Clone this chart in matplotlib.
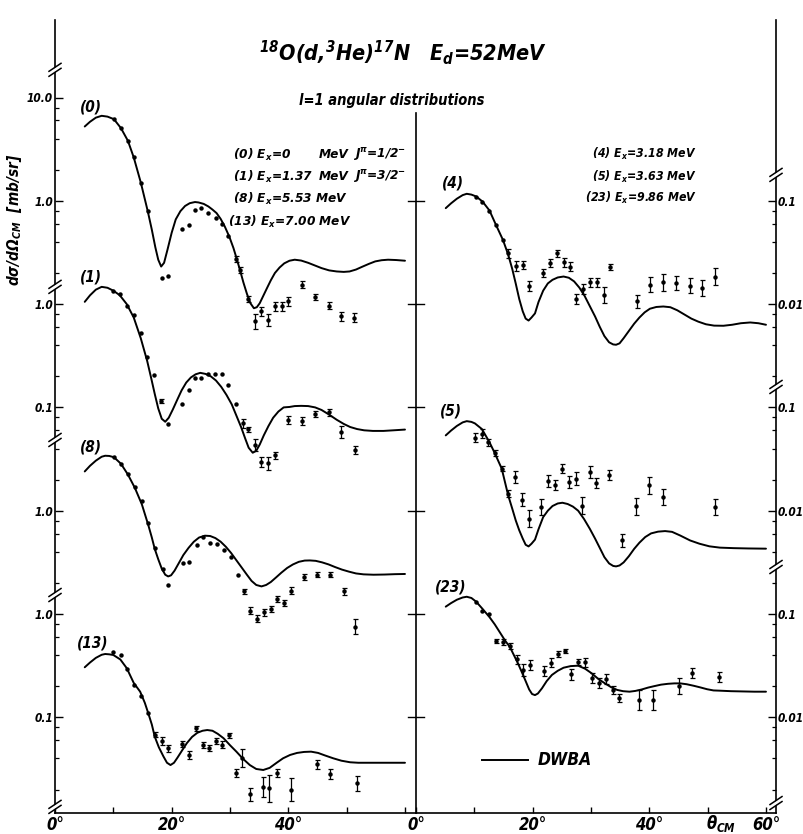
import numpy as np
import matplotlib
matplotlib.use("Agg")
from matplotlib import pyplot as plt
from matplotlib.lines import Line2D
from matplotlib.patches import Polygon

# lettering: bold italic, condensed face
plt.rcParams['font.family'] = ['DejaVu Sans']
plt.rcParams['font.stretch'] = 'condensed'
plt.rcParams['font.weight'] = 'bold'
plt.rcParams['font.style'] = 'italic'
plt.rcParams['mathtext.fontset'] = 'custom'
for k in ('rm', 'it', 'bf', 'sf'):
    plt.rcParams['mathtext.' + k] = 'DejaVu Sans:bold:italic'
plt.rcParams['mathtext.default'] = 'it'

# ---------------- data : angle (deg CM), cross section (mb/sr) ----------------
# (0) Ex=0 MeV, DWBA curve and measured points
th0_ang = [5.1, 6.0, 7.0, 8.0, 9.0, 10.1, 11.3, 12.5, 13.5, 14.7, 15.9, 16.6, 17.2, 17.7,
           18.2, 18.7, 19.3, 20.0, 20.7, 21.5, 22.3, 23.1, 24.0, 24.6, 25.5, 26.3, 27.0,
           27.7, 28.4, 29.1, 29.9, 30.6, 31.2, 31.7, 32.3, 32.9, 33.5, 34.1, 34.6, 35.1,
           35.7, 36.4, 37.0, 37.7, 38.5, 39.3, 40.2, 41.1, 42.2, 43.4, 44.6, 45.7, 47.0,
           48.3, 49.5, 50.5, 51.6, 52.6, 53.8, 54.9, 56.0, 57.1, 58.5, 60.0]
th0_sig = [5.24, 5.82, 6.38, 6.65, 6.53, 6.17, 5.06, 3.81, 2.63, 1.51, 0.794, 0.525, 0.355,
           0.269, 0.231, 0.251, 0.339, 0.490, 0.661, 0.794, 0.891, 0.948, 0.973, 0.964, 0.933,
           0.881, 0.822, 0.760, 0.668, 0.565, 0.447, 0.348, 0.269, 0.215, 0.162, 0.126, 0.102,
           0.0912, 0.0933, 0.102, 0.120, 0.145, 0.170, 0.200, 0.226, 0.248, 0.263, 0.269,
           0.264, 0.251, 0.236, 0.223, 0.212, 0.207, 0.205, 0.207, 0.216, 0.229, 0.245, 0.259,
           0.266, 0.269, 0.267, 0.263]
d0_ang = [10.1, 11.3, 12.5, 13.5, 14.7, 15.9, 18.3, 19.4, 21.7, 23.0, 24.0, 25.1, 26.3, 27.6,
          28.6, 29.7, 31.0, 31.8, 33.1, 34.3, 35.4, 36.6, 37.7, 38.9, 40.0, 42.3, 44.6, 46.9,
          49.0, 51.3]
d0_sig = [6.18, 5.06, 3.81, 2.63, 1.50, 0.80, 0.179, 0.188, 0.536, 0.586, 0.818, 0.85, 0.77,
          0.68, 0.60, 0.46, 0.272, 0.215, 0.112, 0.068, 0.085, 0.070, 0.095, 0.095, 0.106,
          0.154, 0.117, 0.096, 0.076, 0.074]
d0_err = [0, 0, 0, 0, 0, 0, 0, 0, 0, 0, 0, 0, 0, 0, 0, 0, 0.07, 0.07, 0.08, 0.18, 0.10, 0.14,
          0.10, 0.10, 0.10, 0.08, 0.06, 0.08, 0.10, 0.10]

# (1) Ex=1.37 MeV
th1_ang = [5.1, 6.0, 7.0, 8.0, 9.0, 10.0, 11.1, 12.3, 13.5, 14.7, 15.8, 16.5, 17.1, 17.7,
           18.3, 18.9, 19.5, 20.2, 21.0, 21.7, 22.5, 23.3, 24.1, 24.9, 25.8, 26.7, 27.6,
           28.5, 29.4, 30.3, 31.1, 31.9, 32.6, 33.2, 33.9, 34.5, 35.1, 35.8, 36.6, 37.4,
           38.3, 39.2, 40.2, 41.1, 42.2, 43.4, 44.6, 45.7, 47.0, 48.3, 49.5, 50.6, 51.8,
           53.0, 54.5, 56.3, 58.0, 60.0]
th1_sig = [1.052, 1.216, 1.380, 1.469, 1.439, 1.349, 1.219, 1.0, 0.741, 0.468, 0.282, 0.191,
           0.135, 0.0977, 0.0776, 0.0726, 0.0794, 0.0955, 0.120, 0.146, 0.174, 0.195, 0.209,
           0.216, 0.211, 0.200, 0.182, 0.158, 0.132, 0.107, 0.0832, 0.0646, 0.0501, 0.0407,
           0.0364, 0.0380, 0.0437, 0.0537, 0.0661, 0.0794, 0.0912, 0.100, 0.101, 0.103,
           0.1035, 0.103, 0.100, 0.0944, 0.0851, 0.0759, 0.0692, 0.0646, 0.0617, 0.0600,
           0.0592, 0.0592, 0.0600, 0.0610]
d1_ang = [10.0, 11.1, 12.3, 13.5, 14.7, 15.8, 17.0, 18.2, 19.3, 21.7, 22.9, 24.0, 25.1, 26.3,
          27.4, 28.6, 29.7, 31.0, 32.2, 33.1, 34.3, 35.4, 36.6, 37.7, 40.0, 42.3, 44.6, 46.9,
          49.0, 51.4]
d1_sig = [1.34, 1.24, 0.96, 0.78, 0.53, 0.309, 0.205, 0.115, 0.069, 0.109, 0.147, 0.194, 0.194,
          0.209, 0.209, 0.209, 0.164, 0.109, 0.070, 0.0612, 0.0432, 0.0297, 0.0287, 0.0345,
          0.0753, 0.0742, 0.0855, 0.0893, 0.058, 0.0386]
d1_err = [0, 0, 0, 0, 0, 0, 0, 0.05, 0, 0, 0, 0, 0, 0, 0, 0, 0, 0, 0.10, 0.06, 0.15, 0.12,
          0.16, 0.08, 0.10, 0.10, 0.07, 0.07, 0.15, 0.10]

# (8) Ex=5.53 MeV
th8_ang = [5.1, 6.0, 7.0, 8.0, 8.6, 9.3, 10.1, 11.3, 12.5, 13.7, 14.9, 16.0, 16.6, 17.1,
           17.7, 18.3, 18.9, 19.4, 19.9, 20.5, 21.2, 22.0, 22.9, 23.8, 24.7, 25.7, 26.6,
           27.5, 28.4, 29.3, 30.2, 31.1, 32.0, 32.9, 33.7, 34.5, 35.4, 36.2, 37.0, 37.9,
           38.8, 39.8, 40.8, 41.8, 42.8, 43.7, 44.7, 45.8, 46.9, 48.0, 49.2, 50.4, 51.6,
           52.9, 54.6, 56.5, 58.3, 60.0]
th8_sig = [2.399, 2.72, 3.05, 3.33, 3.404, 3.388, 3.296, 2.851, 2.239, 1.660, 1.148, 0.724,
           0.550, 0.427, 0.339, 0.275, 0.240, 0.231, 0.237, 0.263, 0.309, 0.372, 0.437, 0.501,
           0.550, 0.573, 0.569, 0.543, 0.501, 0.447, 0.389, 0.331, 0.282, 0.240, 0.209, 0.191,
           0.185, 0.191, 0.204, 0.226, 0.251, 0.279, 0.302, 0.320, 0.329, 0.330, 0.327, 0.316,
           0.302, 0.285, 0.269, 0.257, 0.247, 0.242, 0.240, 0.241, 0.243, 0.244]
d8_ang = [10.1, 11.3, 12.5, 13.7, 14.9, 16.0, 17.1, 18.5, 19.4, 21.9, 23.0, 24.3, 25.4, 26.6,
          27.8, 29.0, 30.1, 31.3, 32.4, 33.5, 34.6, 35.8, 37.0, 38.1, 39.3, 40.4, 42.7, 45.0,
          47.1, 49.5, 51.4]
d8_sig = [3.31, 2.85, 2.28, 1.68, 1.23, 0.76, 0.435, 0.275, 0.192, 0.312, 0.319, 0.469, 0.552,
          0.487, 0.476, 0.419, 0.356, 0.240, 0.166, 0.108, 0.090, 0.104, 0.112, 0.140, 0.128,
          0.168, 0.228, 0.240, 0.240, 0.166, 0.075]
d8_err = [0, 0, 0, 0, 0, 0, 0, 0, 0, 0, 0, 0, 0, 0, 0, 0, 0, 0, 0.06, 0.08, 0.08, 0.08, 0.07,
          0.07, 0.06, 0.08, 0.07, 0.06, 0.06, 0.08, 0.18]

# (13) Ex=7.00 MeV
th13_ang = [5.1, 6.0, 7.0, 8.0, 8.6, 9.3, 10.0, 11.2, 12.3, 13.5, 14.6, 15.4, 16.0, 16.6,
            17.1, 17.8, 18.6, 19.2, 19.8, 20.4, 21.0, 21.8, 22.6, 23.5, 24.4, 25.3, 26.1,
            27.0, 27.9, 28.9, 30.0, 31.1, 32.2, 33.4, 34.5, 35.7, 36.8, 38.0, 39.1, 40.3,
            41.5, 42.7, 43.9, 45.1, 46.3, 47.7, 49.1, 50.6, 52.0, 53.4, 56.0, 60.0]
th13_sig = [0.305, 0.339, 0.376, 0.403, 0.410, 0.407, 0.401, 0.363, 0.299, 0.215, 0.177,
            0.138, 0.109, 0.0851, 0.0650, 0.0513, 0.0417, 0.0363, 0.0345, 0.0363, 0.0407,
            0.0479, 0.0562, 0.0646, 0.0708, 0.0741, 0.0753, 0.0741, 0.0692, 0.0627, 0.0537,
            0.0465, 0.0398, 0.0345, 0.0316, 0.0309, 0.0324, 0.0363, 0.0401, 0.0432, 0.0452,
            0.0462, 0.0465, 0.0452, 0.0427, 0.0401, 0.0380, 0.0367, 0.0363, 0.0363, 0.0363,
            0.0363]
d13_ang = [10.0, 11.3, 12.3, 13.5, 14.7, 16.0, 17.1, 18.3, 19.4, 21.7, 22.9, 24.1, 25.3, 26.4,
           27.6, 28.7, 29.9, 31.1, 32.1, 33.4, 35.7, 36.7, 38.0, 40.4, 44.9, 47.1, 51.7]
d13_sig = [0.426, 0.40, 0.292, 0.206, 0.161, 0.109, 0.068, 0.059, 0.050, 0.0552, 0.0432, 0.078,
           0.054, 0.050, 0.059, 0.054, 0.067, 0.029, 0.040, 0.018, 0.0213, 0.0205, 0.029, 0.020,
           0.035, 0.028, 0.023]
d13_err = [0, 0, 0, 0, 0, 0, 0.06, 0.10, 0.08, 0.08, 0.10, 0.05, 0.07, 0.07, 0.07, 0.08, 0.06,
           0.10, 0.22, 0.15, 0.25, 0.35, 0.10, 0.30, 0.10, 0.12, 0.18]

# (4) Ex=3.18 MeV
th4_ang = [5.1, 6.0, 7.0, 8.0, 8.7, 9.5, 10.3, 11.4, 12.6, 13.7, 14.9, 15.8, 16.5, 17.1,
           17.7, 18.3, 18.8, 19.3, 19.8, 20.4, 21.0, 21.8, 22.6, 23.4, 24.3, 25.3, 26.2,
           27.1, 28.0, 28.9, 29.8, 30.7, 31.5, 32.3, 33.1, 33.8, 34.3, 34.9, 35.6, 36.5,
           37.4, 38.3, 39.2, 40.1, 41.2, 42.4, 43.6, 44.8, 46.0, 47.2, 48.4, 49.7, 51.1,
           52.7, 54.2, 55.7, 57.3, 58.7, 60.0]
th4_sig = [0.0849, 0.0944, 0.1047, 0.1135, 0.1169, 0.1148, 0.1102, 0.0984, 0.0805, 0.0586,
           0.0419, 0.0302, 0.0219, 0.0158, 0.0112, 0.00851, 0.00724, 0.00693, 0.00741,
           0.00813, 0.01047, 0.01349, 0.01585, 0.01718, 0.01811, 0.01849, 0.01799, 0.01660,
           0.01445, 0.01202, 0.00955, 0.00759, 0.00603, 0.00490, 0.00427, 0.00407, 0.00404,
           0.00417, 0.00468, 0.00550, 0.00646, 0.00741, 0.00832, 0.00902, 0.00938, 0.00948,
           0.00933, 0.00871, 0.00794, 0.00724, 0.00676, 0.00638, 0.00619, 0.00617, 0.00631,
           0.00653, 0.00664, 0.00653, 0.00631]
d4_ang = [10.3, 11.4, 12.6, 13.7, 14.9, 15.8, 17.1, 18.3, 19.4, 21.7, 23.0, 24.1, 25.3, 26.4,
          27.5, 28.7, 29.8, 31.0, 32.2, 33.3, 37.9, 40.1, 42.4, 44.6, 46.9, 49.1, 51.3]
d4_sig = [0.110, 0.098, 0.080, 0.0586, 0.0419, 0.031, 0.0235, 0.024, 0.015, 0.020, 0.0249,
          0.0312, 0.0253, 0.0231, 0.0112, 0.014, 0.0162, 0.0162, 0.0123, 0.0231, 0.0106, 0.0154,
          0.0162, 0.016, 0.015, 0.0143, 0.0185]
d4_err = [0, 0, 0, 0, 0, 0.10, 0.12, 0.10, 0.12, 0.10, 0.10, 0.08, 0.10, 0.10, 0.12, 0.12,
          0.10, 0.10, 0.20, 0.07, 0.15, 0.18, 0.20, 0.18, 0.18, 0.20, 0.20]

# (5) Ex=3.63 MeV
th5_ang = [5.1, 6.0, 7.0, 8.0, 8.7, 9.5, 10.1, 11.3, 12.6, 13.5, 14.7, 15.8, 16.5, 17.1,
           17.7, 18.3, 18.8, 19.3, 19.8, 20.4, 21.0, 21.8, 22.6, 23.4, 24.3, 25.1, 26.0,
           26.9, 27.8, 28.8, 29.8, 30.7, 31.5, 32.3, 33.1, 33.8, 34.3, 34.9, 35.6, 36.5,
           37.4, 38.3, 39.3, 40.3, 41.5, 42.7, 43.9, 45.3, 47.0, 48.6, 50.3, 52.1, 54.5,
           57.0, 60.0]
th5_sig = [0.0536, 0.0596, 0.0661, 0.0716, 0.0736, 0.0724, 0.0700, 0.0617, 0.0460, 0.0361,
           0.0255, 0.0141, 0.01047, 0.00805, 0.00646, 0.00537, 0.00468, 0.00451, 0.00479,
           0.00525, 0.00661, 0.00867, 0.0100, 0.0111, 0.01175, 0.01194, 0.01161, 0.01096,
           0.0100, 0.00832, 0.00668, 0.00537, 0.00437, 0.00355, 0.00309, 0.00292, 0.00289,
           0.00295, 0.00316, 0.00363, 0.00427, 0.00490, 0.00556, 0.00603, 0.00627, 0.00635,
           0.00624, 0.00575, 0.00515, 0.00479, 0.00452, 0.00439, 0.00434, 0.00431, 0.00429]
d5_ang = [10.1, 11.3, 12.4, 13.5, 14.7, 15.8, 17.0, 18.1, 19.3, 21.5, 22.7, 23.8, 25.1, 26.2,
          27.4, 28.5, 29.8, 30.9, 33.1, 35.4, 37.7, 40.0, 42.4, 51.3]
d5_sig = [0.0509, 0.0556, 0.0461, 0.0361, 0.0255, 0.0146, 0.0211, 0.0128, 0.0084, 0.0108,
          0.0194, 0.0176, 0.0255, 0.0189, 0.0204, 0.0112, 0.0237, 0.0185, 0.0223, 0.00515,
          0.0110, 0.0176, 0.0135, 0.0108]
d5_err = [0.10, 0.10, 0.08, 0.06, 0.06, 0.08, 0.15, 0.15, 0.20, 0.20, 0.15, 0.12, 0.10, 0.15,
          0.15, 0.20, 0.15, 0.12, 0.12, 0.15, 0.20, 0.20, 0.20, 0.20]

# (23) Ex=9.86 MeV
th23_ang = [5.1, 6.0, 7.0, 8.0, 8.7, 9.5, 10.3, 11.4, 12.6, 13.5, 14.4, 15.3, 16.1, 16.8,
            17.5, 18.2, 18.8, 19.4, 19.9, 20.4, 20.9, 21.6, 22.4, 23.3, 24.3, 25.3, 26.5,
            27.8, 29.0, 30.1, 31.3, 32.4, 33.5, 34.5, 35.5, 36.6, 37.6, 38.7, 39.8, 40.8,
            42.0, 43.2, 44.3, 45.3, 46.4, 47.6, 48.7, 49.9, 51.0, 52.1, 54.0, 56.0, 58.0,
            60.0]
th23_sig = [0.1178, 0.1274, 0.1374, 0.1445, 0.1469, 0.1429, 0.1318, 0.1122, 0.0933, 0.0794,
            0.0661, 0.0550, 0.0479, 0.0398, 0.0331, 0.0269, 0.0224, 0.0186, 0.0168, 0.0164,
            0.0170, 0.0191, 0.0224, 0.0257, 0.0282, 0.0302, 0.0313, 0.0316, 0.0295, 0.0267,
            0.0234, 0.0213, 0.0195, 0.0184, 0.0179, 0.0177, 0.0180, 0.0186, 0.0194, 0.0200,
            0.0207, 0.0211, 0.0213, 0.0213, 0.0209, 0.0202, 0.0195, 0.0187, 0.0182, 0.0181,
            0.0179, 0.0178, 0.0177, 0.0177]
d23_ang = [10.3, 11.4, 12.6, 13.8, 15.0, 16.1, 17.3, 18.4, 19.5, 21.9, 23.1, 24.4, 25.5, 26.6,
           27.8, 29.0, 30.1, 31.3, 32.5, 33.7, 34.8, 38.3, 40.6, 45.1, 47.4, 52.0]
d23_sig = [0.131, 0.108, 0.100, 0.0548, 0.0532, 0.049, 0.0364, 0.0287, 0.0321, 0.0282, 0.0338,
           0.0408, 0.0439, 0.026, 0.034, 0.034, 0.0242, 0.0213, 0.0233, 0.0184, 0.0153, 0.0147,
           0.0147, 0.0201, 0.0267, 0.0244]
d23_err = [0, 0, 0, 0.05, 0.07, 0.07, 0.10, 0.15, 0.12, 0.12, 0.10, 0.07, 0.05, 0.12, 0.07,
           0.10, 0.12, 0.12, 0.12, 0.10, 0.10, 0.25, 0.25, 0.20, 0.12, 0.12]

# vertical offset factors (each curve shifted by whole decades)
left_sets = [(th0_ang, th0_sig, d0_ang, d0_sig, d0_err, 1e5, '(0)'),
             (th1_ang, th1_sig, d1_ang, d1_sig, d1_err, 1e4, '(1)'),
             (th8_ang, th8_sig, d8_ang, d8_sig, d8_err, 1e2, '(8)'),
             (th13_ang, th13_sig, d13_ang, d13_sig, d13_err, 1e1, '(13)')]
right_sets = [(th4_ang, th4_sig, d4_ang, d4_sig, d4_err, 1e6, '(4)'),
              (th5_ang, th5_sig, d5_ang, d5_sig, d5_err, 1e4, '(5)'),
              (th23_ang, th23_sig, d23_ang, d23_sig, d23_err, 1e2, '(23)')]

left_labels = ['0.1', '1.0', '1.0', '0.1', '1.0', '1.0', '10.0']
right_labels = ['0.01', '0.1', '0.01', '0.1', '0.01', '0.1']
left_breaks = [6.268, 4.167, 2.685, 1.184, -0.867]
right_breaks = [5.251, 3.198, 1.455, -0.83]

# ---------------- layout ----------------
W, H = 804, 834
fig = plt.figure(figsize=(W / 100, H / 100), dpi=100)


def fx(px):
    return px / W


def fy(py):
    return 1 - py / H


DEC = 103.3      # pixels per decade
Y0 = 717.3       # pixel row of global value 1


def g_of_px(py):
    return 10 ** ((Y0 - py) / DEC)


ylo, yhi = g_of_px(813), g_of_px(20)
deg = 5.833     # pixels per degree
axL = fig.add_axes([fx(55), fy(813), 361 / W, fy(20) - fy(813)])
axR = fig.add_axes([fx(416), fy(813), 360 / W, fy(20) - fy(813)])
axL.set_xlim(0, 361 / deg)
axR.set_xlim(0, 360 / deg)

LW = 1.4
for ax, sets in ((axL, left_sets), (axR, right_sets)):
    ax.set_yscale('log')
    ax.set_ylim(ylo, yhi)
    for ta, ts, da, ds, de, f, name in sets:
        ax.plot(ta, np.array(ts) * f, color='k', lw=LW, solid_capstyle='round',
                solid_joinstyle='round')
        da = np.array(da)
        ds = np.array(ds) * f
        de = np.array(de)
        ax.plot(da, ds, 'o', color='k', ms=3.2, mew=0)
        m = de > 0
        lo = ds[m] - ds[m] / (1 + de[m])
        hi = ds[m] * de[m]
        ax.errorbar(da[m], ds[m], yerr=[lo, hi], fmt='none', ecolor='k',
                    elinewidth=0.9, capsize=1.8, capthick=0.9)
    for s in ax.spines.values():
        s.set_linewidth(1.2)
    ax.spines['top'].set_visible(False)
    ax.set_xticks([0, 10, 20, 30, 40, 50, 60])
    ax.tick_params(axis='x', direction='in', length=4, width=1.0, pad=2, labelsize=12)
    ax.tick_params(axis='y', which='major', direction='in', length=6, width=1.0, pad=1.5,
                   labelsize=8.5)
    ax.tick_params(axis='y', which='minor', direction='in', length=3, width=0.9)
    ax.patch.set_alpha(0)

axL.set_xticklabels(['0°', '', '20°', '', '40°', '', ''])
axR.set_xticklabels(['0°', '', '20°', '', '40°', '', '60°'])

minors = [m * 10.0 ** k for k in range(-1, 7) for m in (2, 4, 6, 8)]
axL.spines['right'].set_visible(False)
axL.set_yticks([10.0 ** k for k in range(7)])
axL.set_yticklabels(left_labels)
axL.set_yticks([v for v in minors if ylo < v < 1e6], minor=True)
axL.yaxis.set_minor_formatter(plt.NullFormatter())
axL.set_ylim(ylo, yhi)

axR.yaxis.tick_right()
axR.set_yticks([10.0 ** k for k in range(6)])
axR.set_yticklabels(right_labels)
axR.set_yticks([v for v in minors if ylo < v < 1e5], minor=True)
axR.yaxis.set_minor_formatter(plt.NullFormatter())
axR.set_ylim(ylo, yhi)
axR.spines['left'].set_bounds(ylo, g_of_px(113))

fig.canvas.draw()
inv = fig.transFigure.inverted()

# crossing ticks on the middle axis
tr = axR.get_yaxis_transform()
for k in range(6):
    cx, cy = tr.transform((0, 10.0 ** k))
    p0 = inv.transform((cx - 8, cy))
    p1 = inv.transform((cx + 8, cy))
    fig.lines.append(Line2D([p0[0], p1[0]], [p0[1], p1[1]], transform=fig.transFigure,
                            color='k', lw=1.0))


def draw_break(ax, xa, lg):
    cx, cy = ax.get_yaxis_transform().transform((xa, 10.0 ** lg))
    gap = [(cx - 5, cy - 5), (cx + 5, cy + 1), (cx + 5, cy + 5), (cx - 5, cy - 1)]
    fig.patches.append(Polygon(inv.transform(gap), closed=True, transform=fig.transFigure,
                               facecolor='white', edgecolor='none', zorder=5))
    for dy in (-2.5, 2.5):
        p = inv.transform([(cx - 6, cy + dy - 4), (cx + 6, cy + dy + 4)])
        fig.lines.append(Line2D(p[:, 0], p[:, 1], transform=fig.transFigure, color='k',
                                lw=1.1, zorder=6))


for lg in left_breaks:
    draw_break(axL, 0, lg)
for lg in right_breaks:
    draw_break(axR, 1, lg)

# ---------------- text ----------------
fig.text(fx(403), fy(53), r'$^{18}$O(d,$^{3}$He)$^{17}$N   E$_{d}$=52MeV',
         ha='center', va='center', fontsize=15.5)
fig.text(fx(392), fy(100), 'l=1 angular distributions', ha='center', va='center',
         fontsize=10.5)
fig.text(fx(15), fy(220), r'd$\sigma$/d$\Omega_{CM}$  [mb/sr]', rotation=90,
         ha='center', va='center', fontsize=11)
fig.text(fx(721), fy(823), r'$\theta_{CM}$', ha='center', va='center', fontsize=12)

for sets, pos in ((left_sets, [(80, 107), (80, 277), (80, 447), (77, 643)]),
                  (right_sets, [(442, 183), (440, 411), (435, 587)])):
    for s, (px, py) in zip(sets, pos):
        fig.text(fx(px), fy(py), s[6], ha='left', va='center', fontsize=11)

fs = 9.7
fig.text(fx(233), fy(155), r'(0) E$_x$=0', va='center', fontsize=fs)
fig.text(fx(233), fy(177), r'(1) E$_x$=1.37', va='center', fontsize=fs)
fig.text(fx(319), fy(155), 'MeV', va='center', fontsize=fs)
fig.text(fx(319), fy(177), 'MeV', va='center', fontsize=fs)
fig.text(fx(353), fy(155), r'J$^{\pi}$=1/2$^{-}$', va='center', fontsize=fs)
fig.text(fx(353), fy(177), r'J$^{\pi}$=3/2$^{-}$', va='center', fontsize=fs)
fig.text(fx(233), fy(199), r'(8) E$_x$=5.53 MeV', va='center', fontsize=fs)
fig.text(fx(228), fy(222), r'(13) E$_x$=7.00 MeV', va='center', fontsize=fs)

fig.text(fx(697), fy(154), r'(4) E$_x$=3.18 MeV', ha='right', va='center', fontsize=8.8)
fig.text(fx(697), fy(177), r'(5) E$_x$=3.63 MeV', ha='right', va='center', fontsize=8.8)
fig.text(fx(697), fy(198), r'(23) E$_x$=9.86 MeV', ha='right', va='center', fontsize=8.8)

fig.lines.append(Line2D([fx(482), fx(528)], [fy(760), fy(760)], transform=fig.transFigure,
                        color='k', lw=LW))
fig.text(fx(538), fy(760), 'DWBA', va='center', fontsize=12.5)

fig.savefig('out.png', dpi=100)
